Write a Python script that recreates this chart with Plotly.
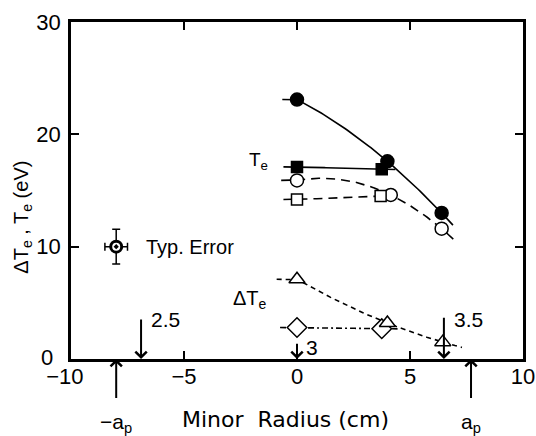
import numpy as np
import plotly.graph_objects as go

# ---------------- data ----------------
x_fc = [0.0, 4.0, 6.4];  y_fc = [23.1, 17.6, 13.0]   # filled circles
x_fs = [0.0, 3.75];      y_fs = [17.1, 16.9]         # filled squares
x_oc = [0.0, 4.15, 6.4]; y_oc = [15.9, 14.6, 11.6]   # open circles
x_os = [0.0, 3.7];       y_os = [14.2, 14.5]         # open squares
x_tr = [0.0, 4.0, 6.45]; y_tr = [7.1, 3.2, 1.5]     # open triangles (Delta Te)
x_di = [0.0, 3.75];      y_di = [2.8, 2.7]           # open diamonds (Delta Te)

err_x = [-8.0]; err_y = [10.0]; err_dy = [1.55]; err_dx = [0.5]

x_ticks = [-10, -5, 0, 5, 10]
x_ticktext = ["\u221210\u00a0\u00a0", "\u22125", "0", "5", "10"]
y_ticks = [0, 10, 20, 30]
y_ticktext = ["", "10", "20", "30"]   # the "0" is placed separately, as in the original

# arrows: position, tail value, label
arrow_down_x = [-6.9, 0.0, 6.5]
arrow_down_tail = [3.65, 1.5, 3.8]
arrow_down_lbl = ["2.5", "3", "3.5"]
arrow_up_x = [-8.0, 7.7]
arrow_up_lbl = ["\u2212a<sub>p</sub>", "a<sub>p</sub>"]

FONT = "Liberation Sans, Arial, Helvetica, sans-serif"


def curve(xs, ys, lead, tail, n=80):
    xs = np.asarray(xs, float)
    ys = np.asarray(ys, float)
    deg = min(len(xs) - 1, 2)
    p = np.polyfit(xs, ys, deg)
    xx = np.linspace(xs[0] - lead, xs[-1] + tail, n)
    yy = np.polyval(p, xx)
    yy[xx < xs[0]] = ys[0]
    return xx, yy


fig = go.Figure()


def add_line(xs, ys, lead, tail, dash):
    cx, cy = curve(xs, ys, lead, tail)
    fig.add_trace(go.Scatter(x=cx, y=cy, mode="lines",
                             line=dict(color="black", width=1.6, dash=dash),
                             hoverinfo="skip", showlegend=False))


add_line(x_fc, y_fc, 0.65, 0.5, "solid")
add_line(x_fs, y_fs, 0.6, 0.6, "solid")
add_line(x_oc, y_oc, 0.7, 0.65, "9px,6px")
add_line(x_os, y_os, 0.6, 0.0, "9px,6px")
add_line(x_tr, y_tr, 0.9, 0.85, "5px,4px")
add_line(x_di, y_di, 0.75, 0.7, "6px,3px,2px,3px")


def add_markers(xs, ys, symbol, size, fill):
    fig.add_trace(go.Scatter(x=xs, y=ys, mode="markers",
                             marker=dict(symbol=symbol, size=size, color=fill,
                                         line=dict(color="black", width=1.5)),
                             showlegend=False))


add_markers(x_oc, y_oc, "circle", 13, "white")
add_markers(x_os, y_os, "square", 11, "white")
add_markers(x_fs, y_fs, "square", 11, "black")
add_markers(x_fc, y_fc, "circle", 13, "black")
add_markers(x_di, y_di, "diamond", 15, "white")
add_markers(x_tr, y_tr, "triangle-up", 14, "white")

# typical error point
fig.add_trace(go.Scatter(
    x=err_x, y=err_y, mode="markers",
    marker=dict(symbol="circle-dot", size=11, color="white",
                line=dict(color="black", width=3)),
    error_y=dict(type="data", array=err_dy, color="black", thickness=1.5, width=4),
    error_x=dict(type="data", array=err_dx, color="black", thickness=1.5, width=4),
    showlegend=False))

ann = []
ann.append(dict(x=-6.75, y=10.0, text="Typ. Error", showarrow=False,
                xanchor="left", yanchor="middle", font=dict(size=20)))
ann.append(dict(x=-1.2, y=17.6, text="T<sub>e</sub>", showarrow=False,
                xanchor="right", yanchor="middle", font=dict(size=19)))
ann.append(dict(x=-1.25, y=5.3, text="\u0394T<sub>e</sub>", showarrow=False,
                xanchor="right", yanchor="middle", font=dict(size=20)))

for xv, tv in zip(arrow_down_x, arrow_down_tail):
    ann.append(dict(x=xv, y=0, ax=xv, ay=tv, axref="x", ayref="y",
                    showarrow=True, arrowhead=4, arrowsize=1.1, arrowwidth=2,
                    arrowcolor="black", text="", standoff=0))
lbl_pos = [(-6.55, 3.55), (0.3, 1.0), (6.85, 3.5)]
for (lx, ly), lb in zip(lbl_pos, arrow_down_lbl):
    ann.append(dict(x=lx, y=ly, text=lb, showarrow=False, xanchor="left",
                    yanchor="middle", font=dict(size=21)))

for xv, lb in zip(arrow_up_x, arrow_up_lbl):
    ann.append(dict(x=xv, y=0, ax=xv, ay=-3.6, axref="x", ayref="y",
                    showarrow=True, arrowhead=4, arrowsize=1.1, arrowwidth=2,
                    arrowcolor="black", text="", standoff=0))
    ann.append(dict(x=xv, xref="x", yref="paper", y=-0.19, text=lb,
                    showarrow=False, xanchor="center", yanchor="middle",
                    font=dict(size=21)))

ann.append(dict(x=-0.5, xref="x", yref="paper", y=-0.18,
                text="Minor  Radius (cm)", showarrow=False,
                xanchor="center", yanchor="middle",
                font=dict(size=22, family="DejaVu Sans, sans-serif")))
ann.append(dict(xref="paper", yref="y", x=-0.108, y=12.6,
                text="\u0394T<sub>e</sub> , T<sub>e</sub> (eV)", textangle=-90,
                showarrow=False, xanchor="center", yanchor="middle",
                font=dict(size=20)))
# the y-axis "0", set a little left as in the original
ann.append(dict(xref="paper", yref="paper", x=-0.053, y=0.004, text="0",
                showarrow=False, xanchor="center", yanchor="middle",
                font=dict(size=22)))

fig.update_layout(
    width=536, height=436,
    margin=dict(l=71, r=13, t=22, b=77, autoexpand=False),
    paper_bgcolor="white", plot_bgcolor="white",
    font=dict(family=FONT, color="black", size=20),
    annotations=ann,
    showlegend=False,
)
fig.update_xaxes(range=[-10, 10], tickvals=x_ticks, ticktext=x_ticktext,
                 ticks="inside", ticklen=8,
                 tickwidth=2, tickcolor="black", showline=True, linewidth=2.5,
                 linecolor="black", mirror="ticks", showgrid=False,
                 zeroline=False, tickfont=dict(size=22), ticklabelstandoff=-4,
                 automargin=False)
fig.update_yaxes(range=[0, 30], tickvals=y_ticks, ticktext=y_ticktext,
                 ticks="inside", ticklen=8,
                 tickwidth=2, tickcolor="black", showline=True, linewidth=2.5,
                 linecolor="black", mirror="ticks", showgrid=False,
                 zeroline=False, tickfont=dict(size=22), ticklabelstandoff=3,
                 automargin=False)

# remove the browser's default 8px page margin so the figure fills the window
fig.write_html("out.html", config={"displayModeBar": False},
               post_script="document.body.style.margin='0';")
